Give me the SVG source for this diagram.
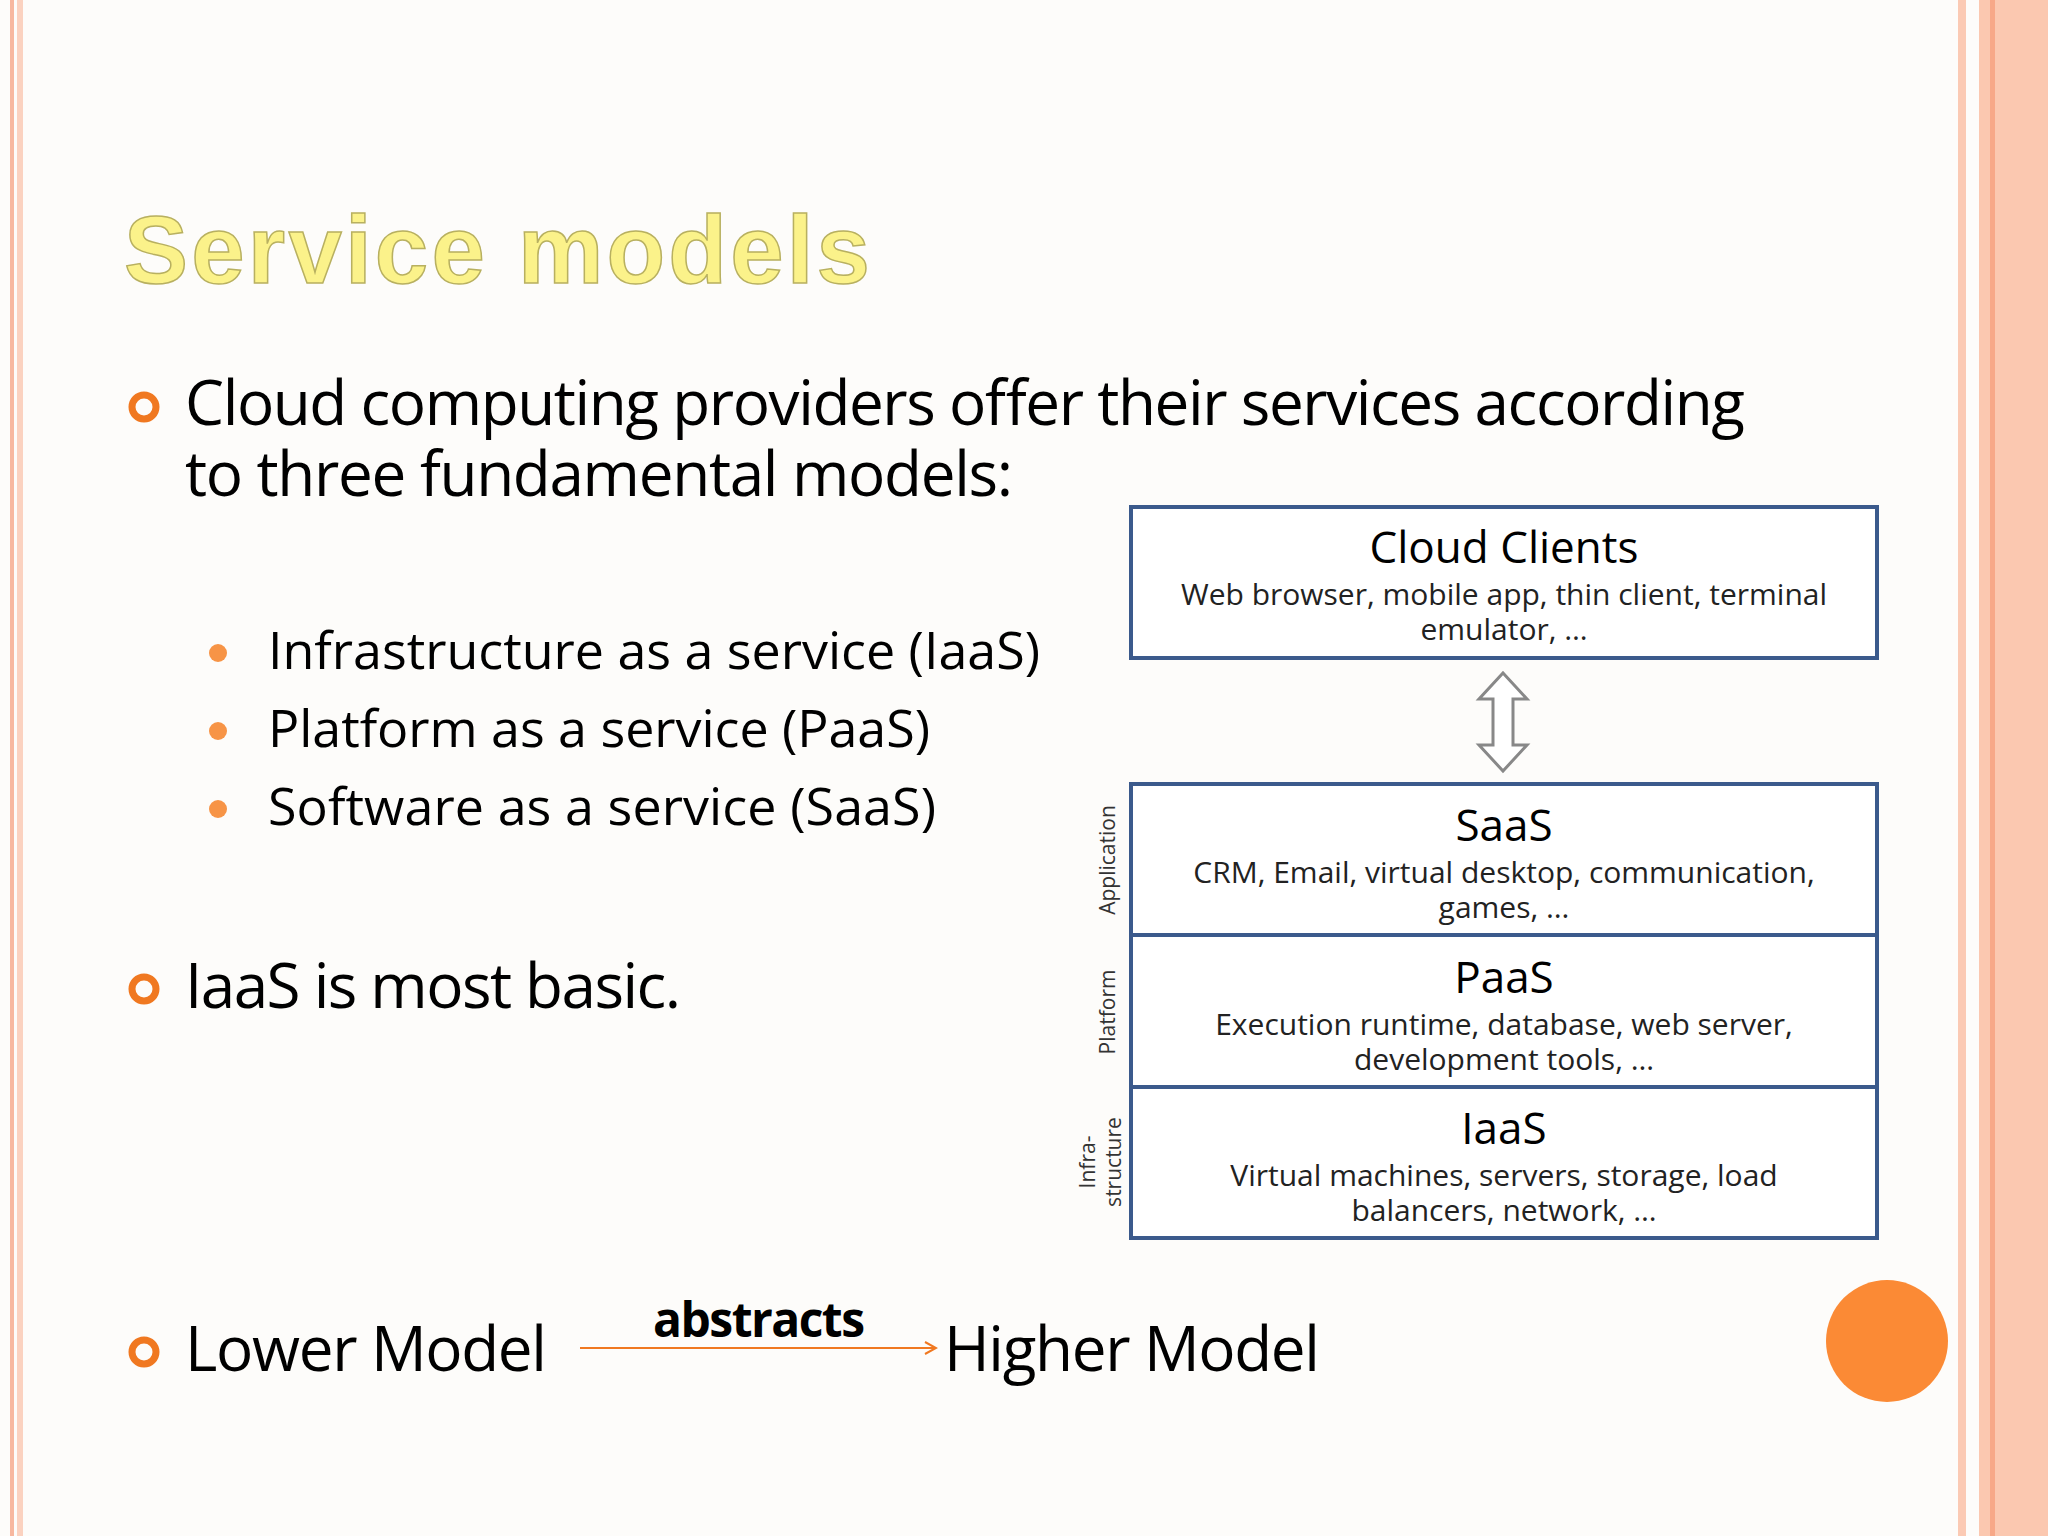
<svg xmlns="http://www.w3.org/2000/svg" width="2048" height="1536" viewBox="0 0 2048 1536">
<style>
.b{font-family:"Open Sans","Liberation Sans",sans-serif;fill:#000}
.box{fill:#fff;stroke:#3b5a8c;stroke-width:4}
.t{font-family:"Open Sans","Liberation Sans",sans-serif;font-size:44px;text-anchor:middle;fill:#000}
.s{font-family:"Open Sans","Liberation Sans",sans-serif;font-size:30px;text-anchor:middle;fill:#222}
.side{font-family:"Open Sans","Liberation Sans",sans-serif;font-size:21px;text-anchor:middle;fill:#333}
.dot{fill:#f79446}
</style>
<defs>
<marker id="ah" markerWidth="14" markerHeight="14" refX="12" refY="7" orient="auto" markerUnits="userSpaceOnUse"><path d="M1,1 L12,7 L1,13" fill="none" stroke="#f07820" stroke-width="2"/></marker>
</defs>
<rect width="2048" height="1536" fill="#fdfcfa"/>
<rect x="10" y="0" width="4" height="1536" fill="#f7b8a0"/>
<rect x="17" y="0" width="6" height="1536" fill="#fbd2c0"/>
<rect x="1958" y="0" width="8" height="1536" fill="#fbcab4"/>
<rect x="1979" y="0" width="69" height="1536" fill="#fbc8b0"/>
<rect x="1990" y="0" width="5" height="1536" fill="#f7a888"/>
<text x="124" y="283" font-family="Liberation Sans,Arial,sans-serif" font-weight="bold" font-size="96" fill="#fbf28a" stroke="#b8b060" stroke-width="1.5" textLength="746">Service models</text>
<g id="bullets">
<circle cx="144" cy="407" r="12" fill="none" stroke="#f07820" stroke-width="7"/>
<text class="b" x="185" y="425" font-size="62" textLength="1560">Cloud computing providers offer their services according</text>
<text class="b" x="185" y="496" font-size="62" textLength="828">to three fundamental models:</text>
<circle class="dot" cx="218" cy="653" r="9"/>
<circle class="dot" cx="218" cy="731" r="9"/>
<circle class="dot" cx="218" cy="809" r="9"/>
<text class="b" x="268" y="669" font-size="52" textLength="772">Infrastructure as a service (IaaS)</text>
<text class="b" x="268" y="747" font-size="52" textLength="662">Platform as a service (PaaS)</text>
<text class="b" x="268" y="825" font-size="52" textLength="668">Software as a service (SaaS)</text>
<circle cx="144" cy="989" r="12" fill="none" stroke="#f07820" stroke-width="7"/>
<text class="b" x="185" y="1008" font-size="62" textLength="496">IaaS is most basic.</text>
<circle cx="144" cy="1352" r="12" fill="none" stroke="#f07820" stroke-width="7"/>
<text class="b" x="185" y="1371" font-size="62" textLength="362">Lower Model</text>
<text class="b" x="944" y="1371" font-size="62" textLength="376">Higher Model</text>
<text class="b" x="653" y="1337" font-size="48" font-weight="bold" textLength="212">abstracts</text>
</g>
<g id="connectors">
<line x1="580" y1="1348" x2="936" y2="1348" stroke="#f07820" stroke-width="2" marker-end="url(#ah)"/>
<path d="M1503,673 L1527,699 L1513,699 L1513,745 L1527,745 L1503,771 L1479,745 L1493,745 L1493,699 L1479,699 Z" fill="#fff" stroke="#888" stroke-width="3"/>
</g>
<g id="cloud">
<rect class="box" x="1131" y="507" width="746" height="151"/>
<text class="t" x="1504" y="563">Cloud Clients</text>
<text class="s" x="1504" y="605">Web browser, mobile app, thin client, terminal</text>
<text class="s" x="1504" y="640">emulator, …</text>
</g>
<g id="saas">
<rect class="box" x="1131" y="784" width="746" height="151"/>
<text class="t" x="1504" y="841">SaaS</text>
<text class="s" x="1504" y="883">CRM, Email, virtual desktop, communication,</text>
<text class="s" x="1504" y="918">games, …</text>
<text class="side" transform="translate(1115,860) rotate(-90)">Application</text>
</g>
<g id="paas">
<rect class="box" x="1131" y="935" width="746" height="152"/>
<text class="t" x="1504" y="993">PaaS</text>
<text class="s" x="1504" y="1035">Execution runtime, database, web server,</text>
<text class="s" x="1504" y="1070">development tools, …</text>
<text class="side" transform="translate(1115,1012) rotate(-90)">Platform</text>
</g>
<g id="iaas">
<rect class="box" x="1131" y="1087" width="746" height="151"/>
<text class="t" x="1504" y="1144">IaaS</text>
<text class="s" x="1504" y="1186">Virtual machines, servers, storage, load</text>
<text class="s" x="1504" y="1221">balancers, network, …</text>
<text class="side" transform="translate(1095,1162) rotate(-90)">Infra-</text>
<text class="side" transform="translate(1121,1162) rotate(-90)">structure</text>
</g>
<circle cx="1887" cy="1341" r="61" fill="#fb8a35"/>
</svg>
